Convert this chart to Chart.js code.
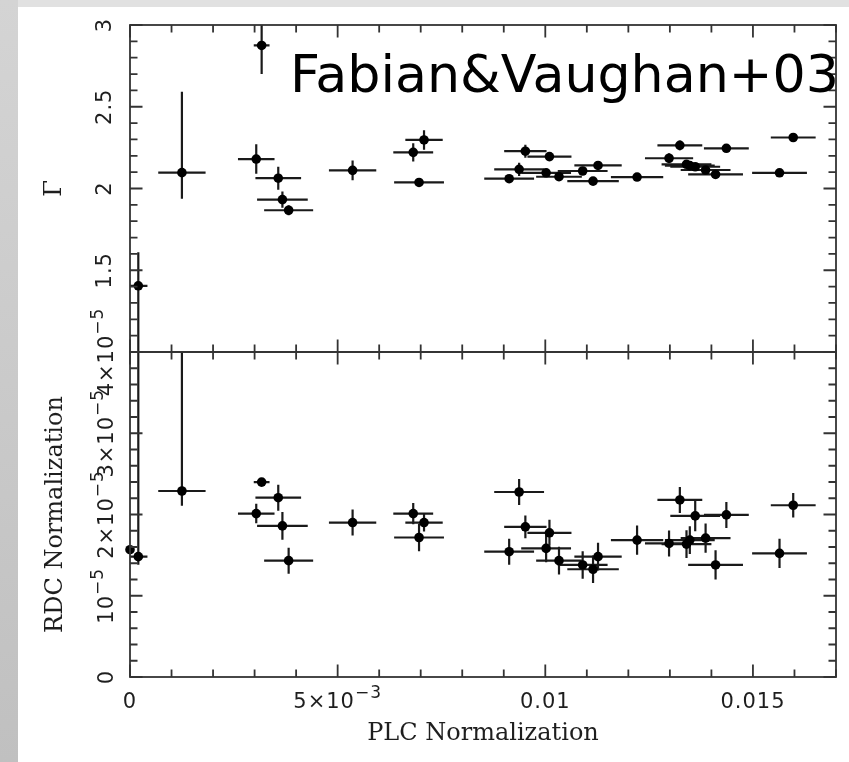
<!DOCTYPE html>
<html><head><meta charset="utf-8">
<script src="https://cdn.jsdelivr.net/npm/chart.js@4.4.1/dist/chart.umd.min.js"></script>
<style>
html,body{margin:0;padding:0;width:849px;height:762px;overflow:hidden;background:#fff;}
#bgTop{position:absolute;left:0;top:0;width:849px;height:7px;background:#e1e1e1;}
#bgLeft{position:absolute;left:0;top:0;width:18px;height:762px;background:linear-gradient(to bottom,#d4d4d4,#c0c0c0);}
canvas{position:absolute;left:0;top:0;}
</style></head><body>
<div id="bgTop"></div><div id="bgLeft"></div>
<canvas id="c1" width="849" height="762"></canvas>
<canvas id="c2" width="849" height="762"></canvas>
<script>
// ---------- data ----------
const plcNorm = [0.00000, 0.00020, 0.00125, 0.00304, 0.00317, 0.00357, 0.00367, 0.00382, 0.00536, 0.00682,
                 0.00696, 0.00708, 0.00913, 0.00937, 0.00952, 0.01002, 0.01010, 0.01033, 0.01090, 0.01115,
                 0.01127, 0.01221, 0.01298, 0.01324, 0.01340, 0.01348, 0.01361, 0.01386, 0.01410, 0.01436,
                 0.01564, 0.01597];
const plcErr  = [0, 0.00022, 0.00057, 0.00044, 0.00019, 0.00055, 0.00061, 0.00059, 0.00057, 0.00048,
                 0.00060, 0.00045, 0.00060, 0.00060, 0.00051, 0.00060, 0.00053, 0.00055, 0.00060, 0.00062,
                 0.00057, 0.00063, 0.00058, 0.00054, 0.00060, 0.00060, 0.00060, 0.00060, 0.00066, 0.00054,
                 0.00066, 0.00054];
const gamma      = [null, 1.405, 2.097, 2.180, 2.875, 2.063, 1.932, 1.867, 2.111, 2.221,
                    2.037, 2.297, 2.060, 2.117, 2.228, 2.096, 2.195, 2.072, 2.107, 2.045,
                    2.141, 2.070, 2.185, 2.264, 2.148, 2.140, 2.133, 2.113, 2.086, 2.246,
                    2.096, 2.312];
const gammaErrLo = [0, 0.50, 0.16, 0.09, 0.175, 0.07, 0.05, 0.03, 0.06, 0.056,
                    0.02, 0.06, 0.02, 0.04, 0.04, 0.02, 0.02, 0.02, 0.02, 0.02,
                    0.02, 0.02, 0.03, 0.03, 0.02, 0.02, 0.02, 0.02, 0.02, 0.02,
                    0.02, 0.02];
const gammaErrHi = [0, 0.205, 0.495, 0.09, 0.125, 0.07, 0.05, 0.03, 0.06, 0.056,
                    0.02, 0.06, 0.02, 0.04, 0.04, 0.02, 0.02, 0.02, 0.02, 0.02,
                    0.02, 0.02, 0.03, 0.03, 0.02, 0.02, 0.02, 0.02, 0.02, 0.02,
                    0.02, 0.02];
const rdcNorm  = [1.567e-5, 1.481e-5, 2.289e-5, 2.011e-5, 2.399e-5, 2.207e-5, 1.860e-5, 1.432e-5, 1.901e-5, 2.011e-5,
                  1.717e-5, 1.901e-5, 1.542e-5, 2.277e-5, 1.848e-5, 1.583e-5, 1.775e-5, 1.432e-5, 1.379e-5, 1.326e-5,
                  1.481e-5, 1.685e-5, 1.644e-5, 2.179e-5, 1.636e-5, 1.685e-5, 1.983e-5, 1.710e-5, 1.379e-5, 1.995e-5,
                  1.521e-5, 2.114e-5];
const rdcErrLo = [0, 0.10e-5, 0.18e-5, 0.12e-5, 0.04e-5, 0.16e-5, 0.17e-5, 0.16e-5, 0.16e-5, 0.13e-5,
                  0.17e-5, 0.11e-5, 0.16e-5, 0.16e-5, 0.14e-5, 0.17e-5, 0.16e-5, 0.17e-5, 0.17e-5, 0.17e-5,
                  0.17e-5, 0.18e-5, 0.16e-5, 0.16e-5, 0.17e-5, 0.17e-5, 0.19e-5, 0.18e-5, 0.18e-5, 0.16e-5,
                  0.18e-5, 0.15e-5];
const rdcErrHi = [0, 3.0e-5, 1.75e-5, 0.12e-5, 0.04e-5, 0.16e-5, 0.17e-5, 0.16e-5, 0.16e-5, 0.13e-5,
                  0.17e-5, 0.11e-5, 0.16e-5, 0.16e-5, 0.14e-5, 0.17e-5, 0.16e-5, 0.17e-5, 0.17e-5, 0.17e-5,
                  0.17e-5, 0.18e-5, 0.16e-5, 0.16e-5, 0.17e-5, 0.17e-5, 0.19e-5, 0.18e-5, 0.18e-5, 0.16e-5,
                  0.18e-5, 0.15e-5];

// ---------- axes / ticks ----------
const xRange = [0, 0.017];
const gammaRange = [1, 3];
const rdcRange = [0, 4e-5];
const xMajorTicks = [0, 0.005, 0.010, 0.015];
const xMinorStep = 0.001;
const xTickLabels = [['0', ''], ['5×10', '−3'], ['0.01', ''], ['0.015', '']];
const gammaMajorTicks = [1, 1.5, 2, 2.5, 3];
const gammaMinorStep = 0.1;
const gammaTickValues = [1.5, 2, 2.5, 3];
const gammaTickLabels = [['1.5', ''], ['2', ''], ['2.5', ''], ['3', '']];
const rdcMajorTicks = [0, 1e-5, 2e-5, 3e-5, 4e-5];
const rdcMinorStep = 0.2e-5;
const rdcTickLabels = [['0', ''], ['10', '−5'], ['2×10', '−5'], ['3×10', '−5'], ['4×10', '−5']];
const xTitle = 'PLC Normalization';
const gammaTitle = 'Γ';
const rdcTitle = 'RDC Normalization';
const annotation = 'Fabian&Vaughan+03';

const TICK_FONT = '21px "DejaVu Sans"';
const SUP_FONT = '17px "DejaVu Sans"';
const TITLE_FONT = '24px "DejaVu Serif"';
const INK = '#1e1e1e';
const FRAME = '#333';

function minorValues(range, step) {
  const n = Math.round((range[1] - range[0]) / step);
  const out = [];
  for (let k = 0; k <= n; k++) out.push(range[0] + k * step);
  return out;
}
function isMajor(v, majors, step) { return majors.some(m => Math.abs(m - v) < step * 0.01); }

const errorBars = {
  id: 'errorBars',
  beforeDatasetsDraw(chart) {
    const { ctx, chartArea: a, scales: { x, y } } = chart;
    ctx.save();
    ctx.beginPath(); ctx.rect(a.left, a.top, a.right - a.left, a.bottom - a.top); ctx.clip();
    ctx.strokeStyle = '#1a1a1a'; ctx.lineWidth = 2.2;
    chart.data.datasets[0].data.forEach(p => {
      const px = x.getPixelForValue(p.x), py = y.getPixelForValue(p.y);
      ctx.beginPath();
      if (p.xe > 0) { ctx.moveTo(x.getPixelForValue(p.x - p.xe), py); ctx.lineTo(x.getPixelForValue(p.x + p.xe), py); }
      if (p.lo > 0 || p.hi > 0) { ctx.moveTo(px, y.getPixelForValue(p.y - p.lo)); ctx.lineTo(px, y.getPixelForValue(p.y + p.hi)); }
      ctx.stroke();
    });
    ctx.restore();
  }
};

function frameTicks(chart, yMajors, yStep, yRange) {
  const { ctx, chartArea: a, scales: { x, y } } = chart;
  const MAJ = 12.5, MIN = 7.5;
  ctx.save();
  ctx.strokeStyle = FRAME; ctx.lineWidth = 1.8;
  ctx.strokeRect(a.left, a.top, a.right - a.left, a.bottom - a.top);
  ctx.beginPath();
  minorValues(xRange, xMinorStep).forEach(v => {
    const len = isMajor(v, xMajorTicks, xMinorStep) ? MAJ : MIN;
    const px = x.getPixelForValue(v);
    ctx.moveTo(px, a.top); ctx.lineTo(px, a.top + len);
    ctx.moveTo(px, a.bottom); ctx.lineTo(px, a.bottom - len);
  });
  minorValues(yRange, yStep).forEach(v => {
    const len = isMajor(v, yMajors, yStep) ? MAJ : MIN;
    const py = y.getPixelForValue(v);
    ctx.moveTo(a.left, py); ctx.lineTo(a.left + len, py);
    ctx.moveTo(a.right, py); ctx.lineTo(a.right - len, py);
  });
  ctx.stroke();
  ctx.restore();
}

function supText(ctx, base, sup, cx, baseY, rotated) {
  ctx.save();
  ctx.letterSpacing = '1px';
  ctx.font = TICK_FONT; const wb = ctx.measureText(base).width;
  ctx.font = SUP_FONT; const ws = sup ? ctx.measureText(sup).width : 0;
  const total = wb + ws;
  if (rotated) { ctx.translate(baseY, cx); ctx.rotate(-Math.PI / 2); }
  else { ctx.translate(cx, baseY); }
  ctx.fillStyle = INK; ctx.textBaseline = 'alphabetic'; ctx.textAlign = 'left';
  ctx.font = TICK_FONT; ctx.fillText(base, -total / 2, 0);
  if (sup) { ctx.font = SUP_FONT; ctx.fillText(sup, -total / 2 + wb, -10); }
  ctx.restore();
}

function rotatedText(ctx, text, font, baseX, cy) {
  ctx.save();
  ctx.translate(baseX, cy); ctx.rotate(-Math.PI / 2);
  ctx.font = font; ctx.fillStyle = INK; ctx.textAlign = 'center'; ctx.textBaseline = 'alphabetic';
  ctx.fillText(text, 0, 0);
  ctx.restore();
}

const topDecor = {
  id: 'topDecor',
  afterDraw(chart) {
    const { ctx, scales: { y } } = chart;
    frameTicks(chart, gammaMajorTicks, gammaMinorStep, gammaRange);
    gammaTickValues.forEach((v, i) => supText(ctx, gammaTickLabels[i][0], gammaTickLabels[i][1], y.getPixelForValue(v), 111, true));
    rotatedText(ctx, gammaTitle, TITLE_FONT, 61, y.getPixelForValue(2));
    ctx.save();
    ctx.font = '50px "DejaVu Sans"';
    const w = ctx.measureText(annotation).width;
    const size = 50 * 549 / w;
    ctx.font = size.toFixed(2) + 'px "DejaVu Sans"';
    ctx.fillStyle = '#000'; ctx.textAlign = 'left'; ctx.textBaseline = 'alphabetic';
    ctx.fillText(annotation, 290, 92);
    ctx.restore();
  }
};

const bottomDecor = {
  id: 'bottomDecor',
  afterDraw(chart) {
    const { ctx, chartArea: a, scales: { x, y } } = chart;
    frameTicks(chart, rdcMajorTicks, rdcMinorStep, rdcRange);
    rdcMajorTicks.forEach((v, i) => supText(ctx, rdcTickLabels[i][0], rdcTickLabels[i][1], y.getPixelForValue(v), 113, true));
    xMajorTicks.forEach((v, i) => supText(ctx, xTickLabels[i][0], xTickLabels[i][1], x.getPixelForValue(v), 708, false));
    rotatedText(ctx, rdcTitle, TITLE_FONT, 62, (a.top + a.bottom) / 2);
    ctx.save();
    ctx.font = TITLE_FONT; ctx.fillStyle = INK; ctx.textAlign = 'center'; ctx.textBaseline = 'alphabetic';
    ctx.fillText(xTitle, 483, 740);
    ctx.restore();
  }
};

function panel(id, yVals, yLo, yHi, yRange, padTop, padBottom, decor) {
  const pts = [];
  plcNorm.forEach((xv, i) => {
    if (yVals[i] !== null) pts.push({ x: xv, y: yVals[i], xe: plcErr[i], lo: yLo[i], hi: yHi[i] });
  });
  return new Chart(document.getElementById(id), {
    type: 'scatter',
    data: { datasets: [{ data: pts, pointRadius: 4.8, pointHoverRadius: 4.8, backgroundColor: '#000', borderColor: '#000', borderWidth: 0, clip: false }] },
    options: {
      responsive: false, animation: false, devicePixelRatio: 1, events: [],
      layout: { padding: { left: 130, right: 13, top: padTop, bottom: padBottom } },
      scales: {
        x: { type: 'linear', min: xRange[0], max: xRange[1], display: false },
        y: { type: 'linear', min: yRange[0], max: yRange[1], display: false }
      },
      plugins: { legend: { display: false }, tooltip: { enabled: false } }
    },
    plugins: [errorBars, decor]
  });
}

panel('c1', gamma, gammaErrLo, gammaErrHi, gammaRange, 25, 410, topDecor);
panel('c2', rdcNorm, rdcErrLo, rdcErrHi, rdcRange, 352, 85, bottomDecor);
</script>
</body></html>
